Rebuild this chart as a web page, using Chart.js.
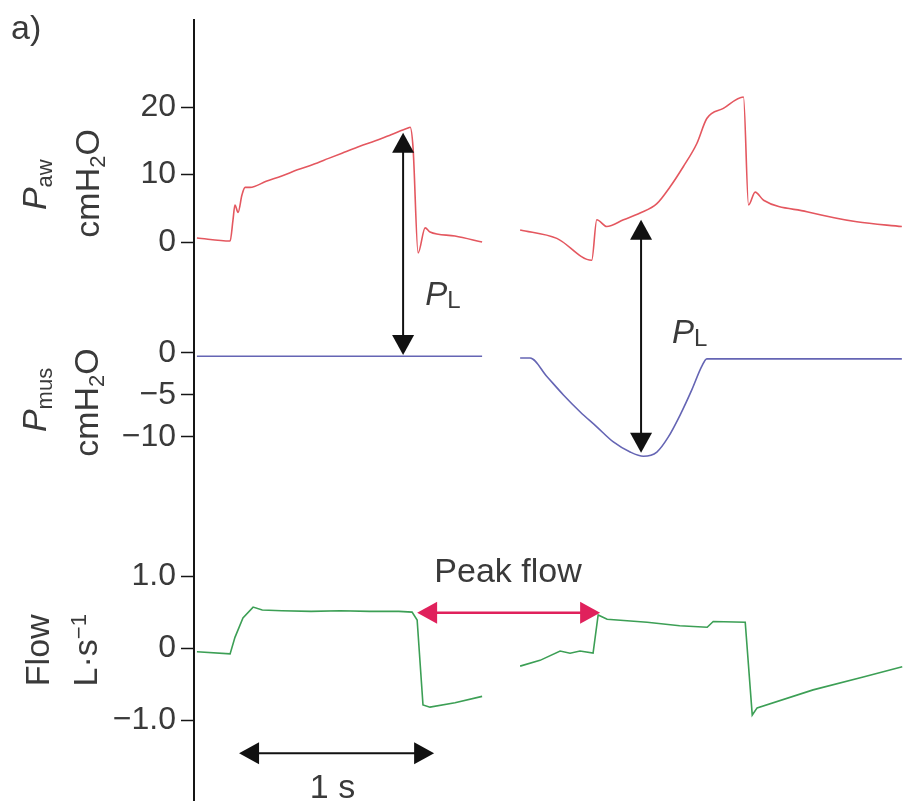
<!DOCTYPE html>
<html>
<head>
<meta charset="utf-8">
<title>Paw, Pmus and flow</title>
<script src="https://cdn.jsdelivr.net/npm/chart.js@4.4.1/dist/chart.umd.min.js"></script>
<style>
  html, body { margin: 0; padding: 0; background: #fff; }
  canvas { display: block; }
</style>
</head>
<body>
<canvas id="waves" width="904" height="804"></canvas>
<script>
// time in seconds; a null value splits the two breaths
const pawTime = [0.015, 0.185, 0.2, 0.21, 0.226, 0.246, 0.262, 0.287, 0.37, 0.45, 0.53, 0.61, 0.69, 0.77, 0.85, 0.93, 1.01, 1.097, 1.108, 1.123, 1.149, 1.185, 1.21, 1.338, 1.477,
  1.56,
  1.672, 1.86, 2.039, 2.065, 2.116, 2.202, 2.287, 2.373, 2.441, 2.509, 2.578, 2.629, 2.714, 2.817, 2.843, 2.877, 2.92, 3.142, 3.398, 3.629];
const pawValues = [0.6, 0.15, 3.3, 5.5, 4.4, 7.0, 8.1, 8.1, 9.0, 9.8, 10.7, 11.5, 12.4, 13.3, 14.2, 15.0, 15.9, 16.9, 17.0, 14.0, -1.6, 2.1, 1.5, 0.9, 0.0,
  null,
  1.8, 0.55, -2.7, 3.3, 2.3, 3.3, 4.3, 5.7, 8.2, 11.2, 14.6, 18.3, 19.8, 21.5, 5.5, 7.4, 6.2, 4.5, 3.0, 2.3];

const pmusTime = [0.015, 0.7, 1.477,
  1.56,
  1.672, 1.723, 1.809, 1.894, 1.979, 2.065, 2.15, 2.236, 2.304, 2.373, 2.432, 2.492, 2.552, 2.603, 2.629, 3.629];
const pmusValues = [-0.4, -0.4, -0.4,
  null,
  -0.6, -0.6, -2.8, -5.0, -7.0, -8.8, -10.6, -11.8, -12.3, -11.8, -10.0, -7.4, -4.4, -1.6, -0.7, -0.7];

const flowTime = [0.015, 0.185, 0.21, 0.251, 0.303, 0.35, 0.45, 0.6, 0.75, 0.9, 1.05, 1.118, 1.144, 1.174, 1.21, 1.338, 1.477,
  1.56,
  1.672, 1.774, 1.877, 1.928, 1.979, 2.046, 2.072, 2.118, 2.323, 2.49, 2.631, 2.662, 2.826, 2.862, 2.887, 3.174, 3.431, 3.631];
const flowValues = [-0.05, -0.08, 0.15, 0.42, 0.57, 0.53, 0.52, 0.51, 0.52, 0.51, 0.51, 0.5, 0.39, -0.79, -0.82, -0.76, -0.67,
  null,
  -0.25, -0.17, -0.04, -0.07, -0.04, -0.07, 0.46, 0.4, 0.36, 0.31, 0.29, 0.37, 0.36, -0.93, -0.83, -0.58, -0.4, -0.26];

const pawTicks = [0, 10, 20];
const pawTickLabels = ['0', '10', '20'];
const pmusTicks = [0, -5, -10];
const pmusTickLabels = ['0', '\u22125', '\u221210'];
const flowTicks = [1, 0, -1];
const flowTickLabels = ['1.0', '0', '\u22121.0'];

const FONT = "'Liberation Sans', Arial, sans-serif";
const INK = '#3a3a3a';

// transpulmonary pressure arrows: time, Paw value at the top, Pmus value at the bottom
const plArrows = [
  { t: 1.072, top: 16.2, bottom: -0.25, labelT: 1.185, labelV: 5.7 },
  { t: 2.292, top: 3.3, bottom: -11.9, labelT: 2.451, labelV: 1.2 }
];
const peakFlow = { from: 1.144, to: 2.082, v: 0.49, labelT: 1.61, labelV: 0.92 };
const timeBar = { from: 0.231, to: 1.231, v: -1.46, labelT: 0.71, labelV: -2.08 };

const toPoints = (ts, vs) => ts.map((t, i) => ({ x: t, y: vs[i] }));

function panelAxis(min, max, stackWeight, order, ticks, labels) {
  return {
    type: 'linear',
    position: 'left',
    stack: 'panels',
    stackWeight: stackWeight,
    weight: order,
    min: min,
    max: max,
    border: { display: true, color: '#151515', width: 2 },
    grid: { drawOnChartArea: false, drawTicks: true, tickLength: 13, tickWidth: 1.5, tickColor: '#151515' },
    afterBuildTicks: s => { s.ticks = ticks.map(v => ({ value: v })); },
    afterFit: s => { s.width = 194; s.paddingTop = 0; s.paddingBottom = 0; },
    ticks: {
      autoSkip: false,
      padding: 5,
      color: INK,
      font: { family: FONT, size: 32 },
      callback: (v, i) => labels[i]
    }
  };
}

// text made of pieces with their own size, slant and baseline shift
function drawRich(ctx, parts, x, y, angle, align) {
  ctx.save();
  ctx.translate(x, y);
  ctx.rotate(angle);
  ctx.fillStyle = INK;
  ctx.textBaseline = 'alphabetic';
  ctx.textAlign = 'left';
  const fontOf = p => (p.italic ? 'italic ' : '') + p.size + 'px ' + FONT;
  let total = 0;
  parts.forEach(p => { ctx.font = fontOf(p); total += ctx.measureText(p.text).width; });
  let u = align === 'left' ? 0 : -total / 2;
  parts.forEach(p => {
    ctx.font = fontOf(p);
    ctx.fillText(p.text, u, p.shift || 0);
    u += ctx.measureText(p.text).width;
  });
  ctx.restore();
}

function drawArrow(ctx, x1, y1, x2, y2, color, width) {
  const head = 20, half = 11;
  const a = Math.atan2(y2 - y1, x2 - x1);
  const cos = Math.cos(a), sin = Math.sin(a);
  ctx.save();
  ctx.strokeStyle = color;
  ctx.fillStyle = color;
  ctx.lineWidth = width;
  ctx.beginPath();
  ctx.moveTo(x1 + cos * head * 0.8, y1 + sin * head * 0.8);
  ctx.lineTo(x2 - cos * head * 0.8, y2 - sin * head * 0.8);
  ctx.stroke();
  [[x1, y1, 1], [x2, y2, -1]].forEach(([px, py, d]) => {
    const bx = px + d * cos * head, by = py + d * sin * head;
    ctx.beginPath();
    ctx.moveTo(px, py);
    ctx.lineTo(bx - sin * half, by + cos * half);
    ctx.lineTo(bx + sin * half, by - cos * half);
    ctx.closePath();
    ctx.fill();
  });
  ctx.restore();
}

const annotations = {
  id: 'annotations',
  afterDraw(chart) {
    const ctx = chart.ctx;
    const x = chart.scales.x, paw = chart.scales.paw, pmus = chart.scales.pmus, flow = chart.scales.flow;
    const up = -Math.PI / 2;

    // panel titles, written bottom to top
    drawRich(ctx, [{ text: 'P', size: 34, italic: true }, { text: 'aw', size: 22, shift: 6 }], 46, paw.getPixelForValue(8.5), up);
    drawRich(ctx, [{ text: 'cmH', size: 34 }, { text: '2', size: 22, shift: 6 }, { text: 'O', size: 34 }], 99, paw.getPixelForValue(8.7), up);
    drawRich(ctx, [{ text: 'P', size: 34, italic: true }, { text: 'mus', size: 22, shift: 6 }], 46, pmus.getPixelForValue(-5.6), up);
    drawRich(ctx, [{ text: 'cmH', size: 34 }, { text: '2', size: 22, shift: 6 }, { text: 'O', size: 34 }], 98, pmus.getPixelForValue(-5.9), up);
    drawRich(ctx, [{ text: 'Flow', size: 34 }], 49, flow.getPixelForValue(-0.03), up);
    drawRich(ctx, [{ text: 'L\u00b7s', size: 34 }, { text: '\u22121', size: 22, shift: -11 }], 97, flow.getPixelForValue(-0.03), up);

    drawRich(ctx, [{ text: 'a)', size: 34 }], 11, 39, 0, 'left');

    plArrows.forEach(a => {
      const px = x.getPixelForValue(a.t);
      drawArrow(ctx, px, paw.getPixelForValue(a.top), px, pmus.getPixelForValue(a.bottom), '#111', 2);
      drawRich(ctx, [{ text: 'P', size: 33, italic: true }, { text: 'L', size: 24, shift: 3 }],
        x.getPixelForValue(a.labelT), pmus.getPixelForValue(a.labelV), 0, 'left');
    });

    const fy = flow.getPixelForValue(peakFlow.v);
    drawArrow(ctx, x.getPixelForValue(peakFlow.from), fy, x.getPixelForValue(peakFlow.to), fy, '#e0215c', 2.5);
    drawRich(ctx, [{ text: 'Peak flow', size: 34 }], x.getPixelForValue(peakFlow.labelT), flow.getPixelForValue(peakFlow.labelV), 0);

    const ty = flow.getPixelForValue(timeBar.v);
    drawArrow(ctx, x.getPixelForValue(timeBar.from), ty, x.getPixelForValue(timeBar.to), ty, '#111', 2);
    drawRich(ctx, [{ text: '1 s', size: 34 }], x.getPixelForValue(timeBar.labelT), flow.getPixelForValue(timeBar.labelV), 0);
  }
};

const line = (points, axis, color, smooth) => ({
  data: points,
  yAxisID: axis,
  borderColor: color,
  borderWidth: 1.6,
  pointRadius: 0,
  tension: 0,
  cubicInterpolationMode: smooth ? 'monotone' : 'default',
  spanGaps: false
});

new Chart(document.getElementById('waves'), {
  type: 'line',
  data: {
    datasets: [
      line(toPoints(pawTime, pawValues), 'paw', '#e4575f', true),
      line(toPoints(pmusTime, pmusValues), 'pmus', '#6565b4', true),
      line(toPoints(flowTime, flowValues), 'flow', '#3c9f55', false)
    ]
  },
  options: {
    responsive: false,
    animation: false,
    layout: { padding: { top: 20, bottom: 4, left: 0, right: 0 } },
    plugins: { legend: { display: false }, tooltip: { enabled: false } },
    scales: {
      x: { type: 'linear', min: 0, max: 3.64, display: false },
      paw: panelAxis(-7.1, 32.9, 270, 3, pawTicks, pawTickLabels),
      pmus: panelAxis(-19.9, 7.5, 230, 2, pmusTicks, pmusTickLabels),
      flow: panelAxis(-2.11, 1.78, 280, 1, flowTicks, flowTickLabels)
    }
  },
  plugins: [annotations]
});
</script>
</body>
</html>
